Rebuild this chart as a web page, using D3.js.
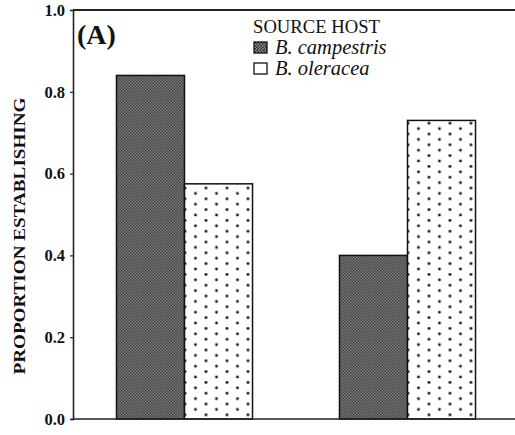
<!DOCTYPE html>
<html>
<head>
<meta charset="utf-8">
<script src="https://cdn.jsdelivr.net/npm/d3@7"></script>
<style>
  html, body { margin: 0; padding: 0; background: #fff; }
  svg { display: block; }
  text { font-family: "Liberation Serif", "Times New Roman", serif; fill: #111; }
</style>
</head>
<body>
<svg id="chart" width="515" height="435"></svg>
<script>
// Groups along the x axis (unlabelled in this panel)
const groups = ["group 1", "group 2"];
// Source hosts (legend entries / series)
const sourceHosts = ["B. campestris", "B. oleracea"];
// Proportion establishing, one value per group
const campestrisValues = [0.84, 0.40];
const oleraceaValues = [0.575, 0.73];
// Y axis ticks
const yTicks = [0.0, 0.2, 0.4, 0.6, 0.8, 1.0];
const yTickLabels = ["0.0", "0.2", "0.4", "0.6", "0.8", "1.0"];
const yTitle = "PROPORTION ESTABLISHING";
const panelLabel = "(A)";
const legendTitle = "SOURCE HOST";

const seriesValues = [campestrisValues, oleraceaValues];
const rows = groups.map((g, i) => ({
  group: g,
  values: sourceHosts.map((h, j) => ({ host: h, value: seriesValues[j][i] }))
}));

const svg = d3.select("#chart");
const margin = { left: 73, top: 10, bottom: 419, right: 519 };

const defs = svg.append("defs");
// Fine dark checker fill
const chk = defs.append("pattern").attr("id", "pat-checker")
  .attr("patternUnits", "userSpaceOnUse").attr("width", 3).attr("height", 3);
chk.append("rect").attr("width", 3).attr("height", 3).attr("fill", "#262626");
chk.append("rect").attr("x", 0).attr("y", 0).attr("width", 1.5).attr("height", 1.5).attr("fill", "#9a9a9a");
chk.append("rect").attr("x", 1.5).attr("y", 1.5).attr("width", 1.5).attr("height", 1.5).attr("fill", "#9a9a9a");
// Sparse staggered dot fill (diagonal lattice)
const dots = defs.append("pattern").attr("id", "pat-dots")
  .attr("patternUnits", "userSpaceOnUse").attr("width", 21).attr("height", 10.8)
  .attr("x", 3).attr("y", 2);
dots.append("rect").attr("width", 21).attr("height", 10.8).attr("fill", "#fff");
dots.append("circle").attr("cx", 2.5).attr("cy", 2.5).attr("r", 1.4).attr("fill", "#111");
dots.append("circle").attr("cx", 13).attr("cy", 7.9).attr("r", 1.4).attr("fill", "#111");

const fills = d3.scaleOrdinal().domain(sourceHosts).range(["url(#pat-checker)", "url(#pat-dots)"]);

const x0 = d3.scaleBand().domain(groups)
  .range([margin.left, margin.right])
  .paddingInner(0.39).paddingOuter(0.195);
const x1 = d3.scaleBand().domain(sourceHosts).range([0, x0.bandwidth()]).padding(0);
const y = d3.scaleLinear().domain([0, 1]).range([margin.bottom, margin.top]);

// Bars
const g = svg.append("g");
g.selectAll("g.grp").data(rows).join("g")
  .attr("class", "grp")
  .attr("transform", d => `translate(${x0(d.group)},0)`)
  .selectAll("rect").data(d => d.values).join("rect")
  .attr("x", d => x1(d.host))
  .attr("y", d => y(d.value))
  .attr("width", x1.bandwidth())
  .attr("height", d => y(0) - y(d.value))
  .attr("fill", d => fills(d.host))
  .attr("stroke", "#111")
  .attr("stroke-width", 1.5);

// Frame: top and bottom lines across the panel
svg.append("line").attr("x1", margin.left).attr("x2", margin.right)
  .attr("y1", y(1)).attr("y2", y(1)).attr("stroke", "#222").attr("stroke-width", 2);
svg.append("line").attr("x1", margin.left).attr("x2", margin.right)
  .attr("y1", y(0)).attr("y2", y(0)).attr("stroke", "#222").attr("stroke-width", 1.6);

// Y axis
const yAxis = d3.axisLeft(y).tickValues(yTicks)
  .tickFormat((d, i) => yTickLabels[i]).tickSize(3).tickPadding(5);
const ya = svg.append("g").attr("transform", `translate(${margin.left},0)`).call(yAxis);
ya.select(".domain").attr("stroke", "#222").attr("stroke-width", 1.6);
ya.selectAll(".tick line").attr("stroke", "#222").attr("stroke-width", 1.2);
ya.selectAll(".tick text")
  .attr("font-family", "Liberation Serif, serif")
  .attr("font-weight", "bold")
  .attr("font-size", 16.5)
  .attr("fill", "#111");

// Y axis title
svg.append("text")
  .attr("transform", "translate(24.5,236) rotate(-90)")
  .attr("text-anchor", "middle")
  .attr("font-weight", "bold")
  .attr("font-size", 16.5)
  .attr("textLength", 277)
  .attr("lengthAdjust", "spacingAndGlyphs")
  .text(yTitle);

// Panel label
svg.append("text")
  .attr("x", 77).attr("y", 44)
  .attr("font-size", 28)
  .attr("font-weight", "bold")
  .text(panelLabel);

// Legend
const lg = svg.append("g").attr("transform", "translate(253,0)");
lg.append("text").attr("x", 0).attr("y", 33).attr("font-size", 18)
  .attr("textLength", 127).attr("lengthAdjust", "spacingAndGlyphs")
  .text(legendTitle);
const items = lg.selectAll("g.item").data(sourceHosts).join("g")
  .attr("class", "item")
  .attr("transform", (d, i) => `translate(0,${42 + i * 21})`);
items.append("rect")
  .attr("x", 1).attr("y", 0).attr("width", 13).attr("height", 11)
  .attr("fill", (d, i) => i === 0 ? "url(#pat-checker)" : "#fff")
  .attr("stroke", "#111").attr("stroke-width", 1.3);
items.append("text")
  .attr("x", 22).attr("y", 11.5)
  .attr("font-size", 20.5)
  .attr("font-style", "italic")
  .text(d => d);
</script>
</body>
</html>
